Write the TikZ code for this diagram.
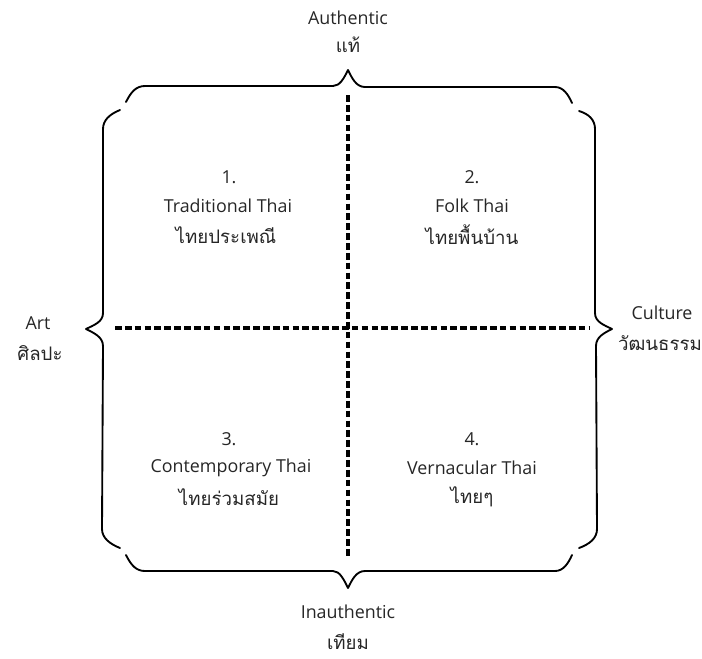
\documentclass[tikz,border=0pt]{standalone}
\usepackage{fontspec}
\setmainfont{Open Sans}
\newfontfamily\thaifont[Script=Thai]{Loma}
\begin{document}
\begin{tikzpicture}[x=0.75pt,y=-0.75pt,
  lbl/.style={font=\fontsize{13.4}{15}\selectfont, text=black!85, inner sep=0pt},
  th/.style={font=\thaifont\fontsize{14}{16}\selectfont, text=black!85, inner sep=0pt},
  brace/.style={line width=1.4pt, line cap=round, line join=round},
  axis/.style={line width=2.3pt, dash pattern=on 5pt off 2.4pt}]
\useasboundingbox (0,0) rectangle (702,658);
% braces
\draw[brace] (126,102) .. controls (131,92) and (136,86) .. (145,86) -- (333,86)
  .. controls (340,86) and (344,78) .. (348,70)
  .. controls (352,78) and (356,87) .. (365,87) -- (555,87)
  .. controls (563,87) and (568,94) .. (572,103);
\draw[brace] (120,110) .. controls (110,114) and (103,120) .. (103,129) -- (103,313)
  .. controls (103,322) and (94,325) .. (86,329)
  .. controls (94,333) and (103,337) .. (103,346) -- (102,529)
  .. controls (102,538) and (110,544) .. (120,548);
\draw[brace] (579,111) .. controls (589,114) and (595,120) .. (595,129) -- (595,313)
  .. controls (595,322) and (604,325) .. (612,329)
  .. controls (604,333) and (596,337) .. (596,346) -- (597,529)
  .. controls (597,538) and (590,544) .. (579,548);
\draw[brace] (126,555) .. controls (131,565) and (136,571) .. (145,571) -- (333,571)
  .. controls (340,571) and (344,580) .. (348,588)
  .. controls (352,580) and (356,571) .. (365,571) -- (555,571)
  .. controls (563,571) and (568,564) .. (572,555);
% axes
\coordinate (vt) at (348,95);
\coordinate (vb) at (348,556);
\coordinate (hl) at (115,328);
\coordinate (hr) at (589,328);
\draw[axis] (vt) -- (vb);
\draw[axis] (hl) -- (hr);
% labels
\node[lbl] (auth) at (348,18) {Authentic};
\node[th] (authT) at (348,45) {แท้};
\node[lbl] (inauth) at (348,612) {Inauthentic};
\node[th] (inauthT) at (348,642) {เทียม};
\node[lbl] (art) at (38,323) {Art};
\node[th] (artT) at (40,353) {ศิลปะ};
\node[lbl] (cult) at (662,313) {Culture};
\node[th] (cultT) at (660,343) {วัฒนธรรม};
% quadrants
\node[lbl] (n1) at (229,177) {1.};
\node[lbl] (q1) at (228,206) {Traditional Thai};
\node[th] (q1T) at (226,235) {ไทยประเพณี};
\node[lbl] (n2) at (472,177) {2.};
\node[lbl] (q2) at (472,206) {Folk Thai};
\node[th] (q2T) at (472,235) {ไทยพื้นบ้าน};
\node[lbl] (n3) at (229,439) {3.};
\node[lbl] (q3) at (231,468) {Contemporary Thai};
\node[th] (q3T) at (229,497) {ไทยร่วมสมัย};
\node[lbl] (n4) at (472,439) {4.};
\node[lbl] (q4) at (472,468) {Vernacular Thai};
\node[th] (q4T) at (472,497) {ไทยๆ};
\end{tikzpicture}
\end{document}
